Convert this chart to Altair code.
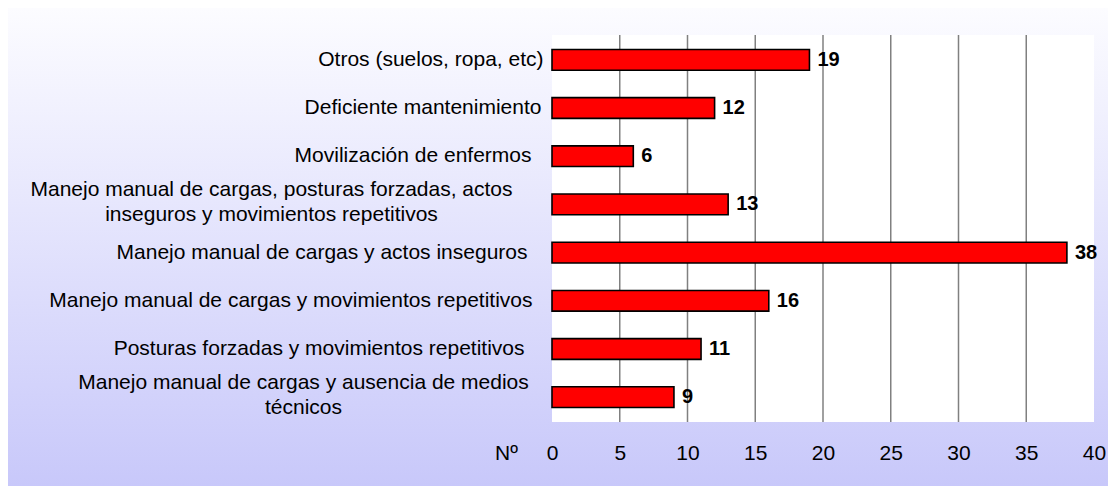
import altair as alt
import pandas as pd

categories = [
    "Otros (suelos, ropa, etc)",
    "Deficiente mantenimiento",
    "Movilización de enfermos",
    "Manejo manual de cargas, posturas forzadas, actos|inseguros y movimientos repetitivos",
    "Manejo manual de cargas y actos inseguros",
    "Manejo manual de cargas y movimientos repetitivos",
    "Posturas forzadas y movimientos repetitivos",
    "Manejo manual de cargas y ausencia de medios|técnicos",
]
values = [19, 12, 6, 13, 38, 16, 11, 9]
x_ticks = [0, 5, 10, 15, 20, 25, 30, 35, 40]
grid_values = [5, 10, 15, 20, 25, 30, 35]

# per-label distance from the plot edge (layout only)
label_pad = {
    categories[0]: 9,
    categories[1]: 11,
    categories[2]: 21,
    categories[3]: 281,
    categories[4]: 25,
    categories[5]: 20,
    categories[6]: 28,
    categories[7]: 249,
}
centered = [categories[3], categories[7]]
centered_test = " || ".join(["datum.value == '%s'" % c for c in centered])

W, H = 542, 387
PL, PT, PR, PB = 544, 27, 14, 64

df = pd.DataFrame({"cat": categories, "val": values})
grid_df = pd.DataFrame({"g": grid_values})
one = pd.DataFrame({"a": [0]})

FONT = "Liberation Sans"

y_enc = alt.Y(
    "cat:N",
    sort=categories,
    title=None,
    scale=alt.Scale(paddingInner=0.57, paddingOuter=0.3),
    axis=alt.Axis(
        domain=False,
        ticks=False,
        grid=False,
        zindex=1,
        labelFont=FONT,
        labelFontSize=21,
        labelColor="black",
        labelLimit=0,
        labelLineHeight=25,
        labelExpr="split(datum.label, '|')",
        labelAlign={
            "condition": {"test": centered_test, "value": "center"},
            "value": "right",
        },
        labelOffset={
            "condition": {"test": centered_test, "value": -14},
            "value": 0,
        },
        labelPadding={
            "condition": [
                {"test": "datum.value == '%s'" % c, "value": p}
                for c, p in label_pad.items()
            ],
            "value": 11,
        },
    ),
)

x_scale = alt.Scale(domain=[0, 40], nice=False)
x_enc = alt.X(
    "val:Q",
    scale=x_scale,
    title="Nº",
    axis=alt.Axis(
        values=x_ticks,
        domain=False,
        ticks=False,
        grid=False,
        zindex=1,
        labelFont=FONT,
        labelFontSize=21,
        labelColor="black",
        labelBaseline="middle",
        labelPadding=31,
        labelFlush=False,
        titleFont=FONT,
        titleFontSize=21,
        titleFontWeight="normal",
        titleColor="black",
        titleX=-46,
        titleY=31,
        titleAlign="center",
        titleBaseline="middle",
    ),
)

background = alt.Chart(one).mark_rect(
    fill=alt.Gradient(
        gradient="linear",
        stops=[
            alt.GradientStop(color="#fcfcff", offset=0),
            alt.GradientStop(color="#c8c8fa", offset=1),
        ],
        x1=0, x2=0, y1=0, y2=1,
    )
).encode(
    x=alt.value(-PL), x2=alt.value(W + PR),
    y=alt.value(-PT), y2=alt.value(H + PB),
)

plot_bg = alt.Chart(one).mark_rect(fill="white").encode(
    x=alt.value(0), x2=alt.value(W), y=alt.value(0), y2=alt.value(H)
)

grid = alt.Chart(grid_df).mark_rule(color="#808080", strokeWidth=1.5).encode(
    x=alt.X("g:Q", scale=x_scale)
)

bars = alt.Chart(df).mark_bar(
    color="#ff0000", stroke="black", strokeWidth=1.6
).encode(x=x_enc, y=y_enc)

labels = alt.Chart(df).mark_text(
    align="left", baseline="middle", dx=8, font=FONT, fontSize=20,
    fontWeight="bold", color="black"
).encode(
    x=alt.X("val:Q", scale=x_scale),
    y=alt.Y("cat:N", sort=categories),
    text="val:Q",
)

chart = alt.layer(background, plot_bg, grid, bars, labels).properties(
    width=W,
    height=H,
    padding={"left": PL, "top": PT, "right": PR, "bottom": PB},
    autosize=alt.AutoSizeParams(type="none"),
).configure_view(strokeWidth=0).configure(background="white")

chart.save("out.html", embed_options={"renderer": "svg", "actions": False})
